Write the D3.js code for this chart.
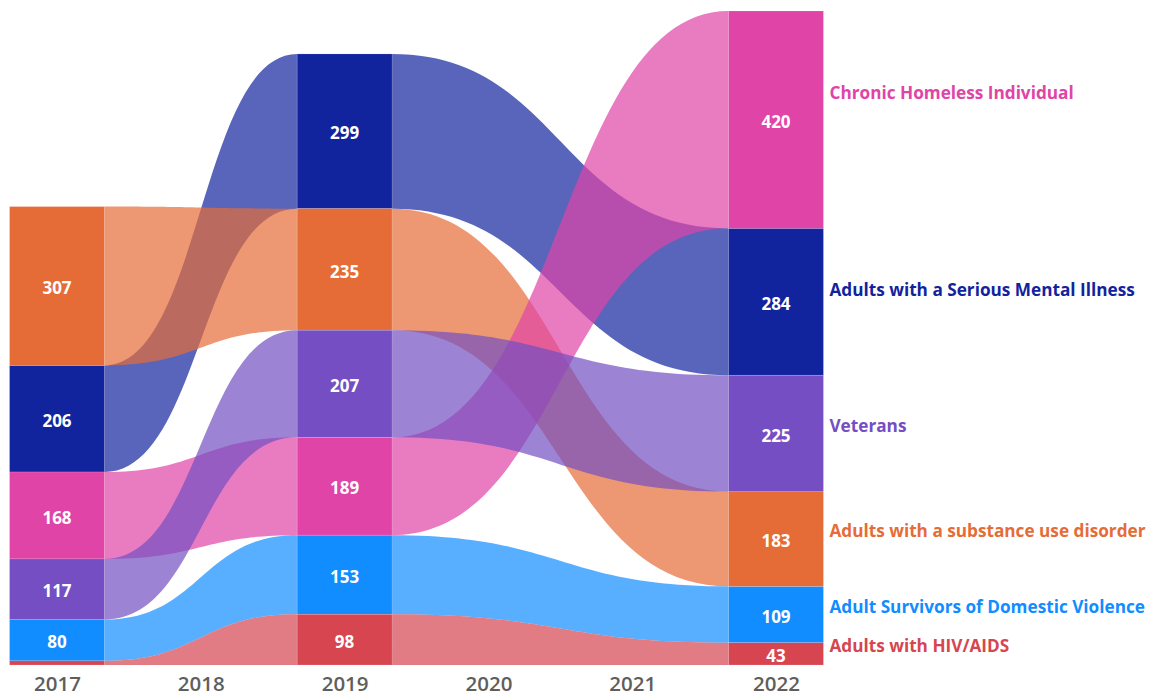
<!DOCTYPE html>
<html>
<head>
<meta charset="utf-8">
<script src="https://cdn.jsdelivr.net/npm/d3@7"></script>
<style>
  html, body { margin: 0; padding: 0; background: #fff; }
  svg { display: block; }
</style>
</head>
<body>
<svg id="chart" width="1158" height="696"></svg>
<script>
// ---- data ----
const years = ["2017", "2018", "2019", "2020", "2021", "2022"];
const dataYears = ["2017", "2019", "2022"];
const seriesNames = [
  "Adult Survivors of Domestic Violence",
  "Adults with a Serious Mental Illness",
  "Adults with a substance use disorder",
  "Adults with HIV/AIDS",
  "Chronic Homeless Individual",
  "Veterans"
];
const seriesColors = ["#118DFF", "#12239E", "#E66C37", "#D64550", "#E044A7", "#744EC2"];
const valuesDV = [80, 153, 109];
const valuesSMI = [206, 299, 284];
const valuesSUD = [307, 235, 183];
const valuesHIV = [8, 98, 43];
const valuesCHI = [168, 189, 420];
const valuesVet = [117, 207, 225];
const seriesValues = [valuesDV, valuesSMI, valuesSUD, valuesHIV, valuesCHI, valuesVet];

// ---- layout ----
const svg = d3.select("#chart");
const baseY = 665, topY = 11;

const x = d3.scalePoint().domain(years).range([57, 776]);
const bw = x.step() * 0.66;

const totals = dataYears.map((_, j) => d3.sum(seriesValues, v => v[j]));
const y = d3.scaleLinear().domain([0, d3.max(totals)]).range([baseY, topY]);

// stack per year: largest on top, smallest at bottom
const pos = seriesNames.map(() => []);
dataYears.forEach((yr, j) => {
  const order = d3.range(seriesNames.length).sort((a, b) => seriesValues[a][j] - seriesValues[b][j]);
  let acc = 0;
  order.forEach(i => {
    const v = seriesValues[i][j];
    pos[i][j] = { y0: acc, y1: acc + v, v };
    acc += v;
  });
});

// ---- ribbons ----
const gR = svg.append("g");
seriesNames.forEach((name, i) => {
  for (let j = 0; j < dataYears.length - 1; j++) {
    const xa = x(dataYears[j]) + bw / 2;
    const xb = x(dataYears[j + 1]) - bw / 2;
    const xm = (xa + xb) / 2;
    const a = pos[i][j], b = pos[i][j + 1];
    const p = d3.path();
    p.moveTo(xa, y(a.y1));
    p.bezierCurveTo(xm, y(a.y1), xm, y(b.y1), xb, y(b.y1));
    p.lineTo(xb, y(b.y0));
    p.bezierCurveTo(xm, y(b.y0), xm, y(a.y0), xa, y(a.y0));
    p.closePath();
    gR.append("path")
      .attr("d", p.toString())
      .attr("fill", seriesColors[i])
      .attr("fill-opacity", 0.7);
  }
});

// ---- bars ----
const gB = svg.append("g");
seriesNames.forEach((name, i) => {
  dataYears.forEach((yr, j) => {
    const s = pos[i][j];
    gB.append("rect")
      .attr("x", x(yr) - bw / 2)
      .attr("y", y(s.y1))
      .attr("width", bw)
      .attr("height", y(s.y0) - y(s.y1))
      .attr("fill", seriesColors[i])
      .attr("stroke", "#fff")
      .attr("stroke-opacity", 0.25)
      .attr("stroke-width", 0.6);
  });
});

// ---- value labels ----
const gL = svg.append("g")
  .attr("font-family", "'Open Sans', sans-serif")
  .attr("font-weight", 700)
  .attr("font-size", 17)
  .attr("fill", "#fff")
  .attr("text-anchor", "middle");
seriesNames.forEach((name, i) => {
  dataYears.forEach((yr, j) => {
    const s = pos[i][j];
    const h = y(s.y0) - y(s.y1);
    if (h < 14) return;
    gL.append("text")
      .attr("x", x(yr))
      .attr("y", (y(s.y0) + y(s.y1)) / 2 + 2)
      .attr("dy", "0.36em")
      .text(s.v);
  });
});

// ---- series labels (right) ----
const last = dataYears.length - 1;
const gS = svg.append("g")
  .attr("font-family", "'Open Sans', sans-serif")
  .attr("font-weight", 700)
  .attr("font-size", 17.2);
seriesNames.forEach((name, i) => {
  const s = pos[i][last];
  const top = y(s.y1), bot = y(s.y0);
  const h = bot - top;
  const cy = (top + bot) / 2 - Math.max(8, 0.2 * h - 17);
  gS.append("text")
    .attr("x", x(dataYears[last]) + bw / 2 + 6)
    .attr("y", cy)
    .attr("dy", "0.36em")
    .attr("fill", seriesColors[i])
    .text(name);
});

// ---- x axis ----
const axis = d3.axisBottom(x).tickSize(0).tickPadding(0);
const gA = svg.append("g")
  .attr("transform", `translate(0, ${baseY + 26})`)
  .call(axis);
gA.select(".domain").remove();
gA.selectAll("text")
  .attr("font-family", "'Open Sans', sans-serif")
  .attr("font-weight", 600)
  .attr("font-size", 20.5)
  .attr("fill", "#605E5C")
  .attr("dy", "0");
</script>
</body>
</html>
